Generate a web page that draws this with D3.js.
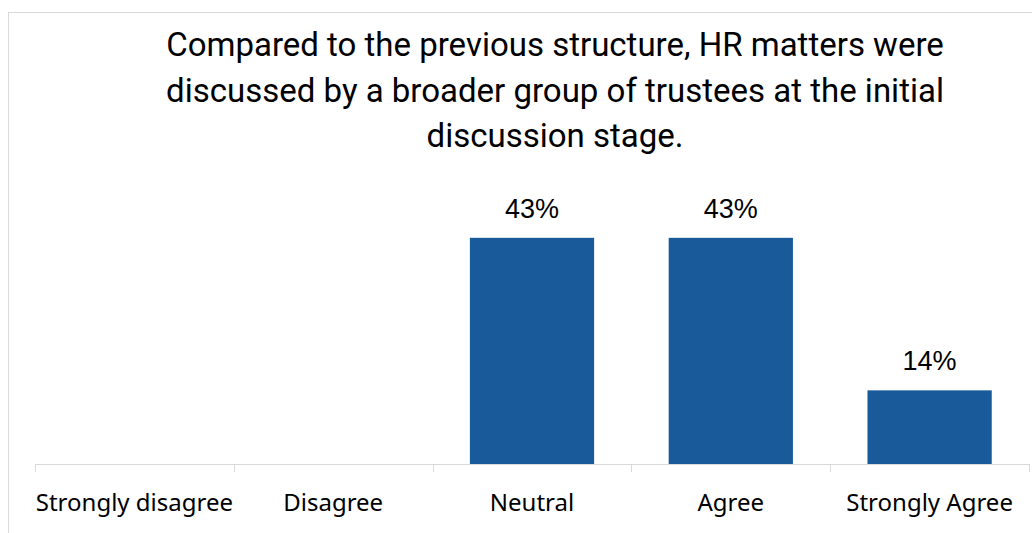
<!DOCTYPE html>
<html>
<head>
<meta charset="utf-8">
<script src="https://cdn.jsdelivr.net/npm/d3@7"></script>
<style>
  html, body { margin: 0; padding: 0; background: #ffffff; }
  svg { display: block; }
</style>
</head>
<body>
<svg id="chart" width="1032" height="533"></svg>
<script>
// Survey responses (share of trustees, %)
const categories = ["Strongly disagree", "Disagree", "Neutral", "Agree", "Strongly Agree"];
const values = [0, 0, 43, 43, 14];
const valueLabels = ["", "", "43%", "43%", "14%"];
const titleLines = [
  "Compared to the previous structure, HR matters were",
  "discussed by a broader group of trustees at the initial",
  "discussion stage."
];

const svg = d3.select("#chart");

// Chart frame
svg.append("rect")
  .attr("x", 8.5).attr("y", 12.5)
  .attr("width", 1040).attr("height", 560)
  .attr("fill", "#ffffff")
  .attr("stroke", "#d9d9d9")
  .attr("stroke-width", 1);

// Title
svg.append("g").selectAll("text")
  .data(titleLines)
  .join("text")
  .attr("x", 555)
  .attr("y", (d, i) => 56 + i * 45.5)
  .attr("text-anchor", "middle")
  .attr("font-family", "Roboto, 'Noto Sans', sans-serif")
  .attr("font-size", 33)
  .attr("fill", "#000000")
  .text(d => d);

const plot = { left: 35, right: 1029, top: 201, bottom: 464 };

const x = d3.scaleBand()
  .domain(categories)
  .range([plot.left, plot.right])
  .paddingInner(0.375)
  .paddingOuter(0.1875);

const y = d3.scaleLinear()
  .domain([0, 50])
  .range([plot.bottom, plot.top]);

const rows = categories.map((c, i) => ({ c, v: values[i], label: valueLabels[i] })).filter(d => d.v > 0);

// Bars
svg.append("g").selectAll("rect")
  .data(rows)
  .join("rect")
  .attr("x", d => x(d.c))
  .attr("y", d => y(d.v))
  .attr("width", x.bandwidth())
  .attr("height", d => y(0) - y(d.v))
  .attr("fill", "#185a9a");

// Value labels
svg.append("g").selectAll("text")
  .data(rows)
  .join("text")
  .attr("x", d => x(d.c) + x.bandwidth() / 2)
  .attr("y", d => y(d.v) - 20)
  .attr("text-anchor", "middle")
  .attr("font-family", "'Liberation Sans', Arial, sans-serif")
  .attr("font-size", 27)
  .attr("fill", "#000000")
  .text(d => d.label);

// Category axis with boundary ticks between bands
const boundaries = d3.range(categories.length + 1).map(i => plot.left + i * (plot.right - plot.left) / categories.length);
const axisG = svg.append("g");
axisG.append("line")
  .attr("x1", plot.left).attr("x2", plot.right)
  .attr("y1", plot.bottom + 0.5).attr("y2", plot.bottom + 0.5)
  .attr("stroke", "#d9d9d9").attr("stroke-width", 1);
axisG.selectAll("line.tick")
  .data(boundaries)
  .join("line")
  .attr("class", "tick")
  .attr("x1", d => Math.round(d) + 0.5).attr("x2", d => Math.round(d) + 0.5)
  .attr("y1", plot.bottom).attr("y2", plot.bottom + 8)
  .attr("stroke", "#d9d9d9").attr("stroke-width", 1);

axisG.selectAll("text")
  .data(categories)
  .join("text")
  .attr("x", d => x(d) + x.bandwidth() / 2)
  .attr("y", 511)
  .attr("text-anchor", "middle")
  .attr("font-family", "'Noto Sans', 'Open Sans', sans-serif")
  .attr("font-size", 24)
  .attr("fill", "#000000")
  .text(d => d);
</script>
</body>
</html>
